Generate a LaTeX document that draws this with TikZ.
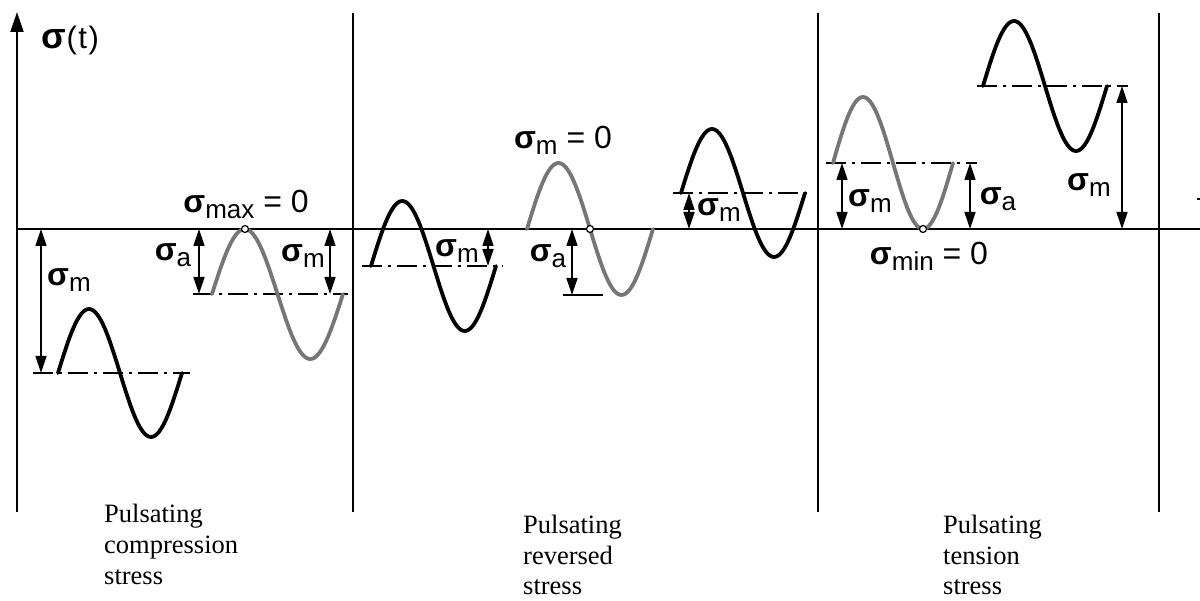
\documentclass[tikz,border=0pt]{standalone}
\usepackage{fontspec}
\setmainfont{Liberation Serif}
\newfontfamily\lsans{Liberation Sans}
\usetikzlibrary{arrows.meta}
\definecolor{wgray}{RGB}{118,118,118}
\newcommand\sgm[1]{{\fontsize{32}{32}\selectfont\lsans\bfseries σ}{\fontsize{26}{26}\selectfont\lsans\raisebox{-6pt}{#1}}}
\newcommand\eqz{{\fontsize{32}{32}\selectfont\lsans\ =\ 0}}
\newcommand\wv[5]{\draw[#5] plot[domain=0:1,samples=73,smooth] ({#1+#3*\x},{#2-#4*sin(360*\x)});}
\tikzset{
  axis/.style={line width=2pt},
  bwave/.style={line width=3.8pt, line cap=round, line join=round, draw=black},
  gwave/.style={line width=3.8pt, line cap=round, line join=round, draw=wgray},
  mline/.style={line width=1.4pt, dash pattern=on 20pt off 6pt on 3pt off 6pt},
  dim/.style={line width=1.4pt, {Triangle[length=17pt,width=11pt]}-{Triangle[length=17pt,width=11pt]}},
  lab/.style={inner sep=0pt, anchor=center, font=\lsans},
  capt/.style={font=\fontsize{26.5}{26.5}\selectfont, anchor=base west, inner sep=0pt},
  zpt/.style={circle, draw, fill=white, inner sep=0pt, minimum size=7pt, line width=1.2pt}
}
\begin{document}
\begin{tikzpicture}[x=1pt,y=-1pt]
\useasboundingbox (0,0) rectangle (1200,601);
% axes and separators
\draw[axis,-{Triangle[length=20pt,width=13pt]}] (17,512) -- (17,12);
\draw[axis] (17,229) -- (1200,229);
\draw[axis] (353,13) -- (353,512);
\draw[axis] (818,13) -- (818,512);
\draw[axis] (1159,13) -- (1159,512);
\draw[line width=1.5pt] (1197,199) -- (1200,199);
\node[lab, font=\fontsize{31}{31}\selectfont\lsans] (sigt) at (70,40) {{\fontsize{36}{36}\selectfont\bfseries σ}\kern1pt(\kern1.5pt t\kern1.5pt)};
% mean lines
\draw[mline] (33,373) -- (190,373);
\draw[mline] (193,294) -- (348,294);
\draw[mline] (362,266) -- (503,266);
\draw[line width=1.4pt] (563,295) -- (603,295);
\draw[mline] (673,193) -- (810,193);
\draw[mline] (826,163) -- (977,163);
\draw[mline] (977,86) -- (1128,86);
% waves
\wv{58}{373}{124}{64}{bwave}
\wv{212}{294}{131}{65}{gwave}
\wv{371}{266}{125}{65}{bwave}
\wv{527}{229}{126}{66}{gwave}
\wv{681}{193}{124}{64}{bwave}
\wv{833}{163}{120}{66}{gwave}
\wv{983}{86}{124}{65}{bwave}
% zero points
\node[zpt] (z1) at (245,229) {};
\node[zpt] (z2) at (590,229) {};
\node[zpt] (z3) at (923,229) {};
% dimension arrows
\coordinate (a1t) at (41,229);  \coordinate (a1b) at (41,373);
\coordinate (a2t) at (199,229); \coordinate (a2b) at (199,294);
\coordinate (a3t) at (330,229); \coordinate (a3b) at (330,294);
\coordinate (a4t) at (488,229); \coordinate (a4b) at (488,266);
\coordinate (a5t) at (572,229); \coordinate (a5b) at (572,295);
\coordinate (a6t) at (689,193); \coordinate (a6b) at (689,229);
\coordinate (a7t) at (842,163); \coordinate (a7b) at (842,229);
\coordinate (a8t) at (970,163); \coordinate (a8b) at (970,229);
\coordinate (a9t) at (1122,86); \coordinate (a9b) at (1122,229);
\foreach \i in {1,...,9} {\draw[dim] (a\i t) -- (a\i b);}
% labels
\node[lab] (l1) at (69,280) {\sgm{m}};
\node[lab] (l2) at (173,255) {\sgm{a}};
\node[lab] (l3) at (303,256) {\sgm{m}};
\node[lab] (l4) at (457,251) {\sgm{m}};
\node[lab] (l5) at (548,256) {\sgm{a}};
\node[lab] (l6) at (719,210) {\sgm{m}};
\node[lab] (l7) at (870,201) {\sgm{m}};
\node[lab] (l8) at (998,199) {\sgm{a}};
\node[lab] (l9) at (1089,185) {\sgm{m}};
\node[lab] (lmax) at (246,204) {\sgm{max}\eqz};
\node[lab] (lm0) at (563,140) {\sgm{m}\eqz};
\node[lab] (lmin) at (929,256) {\sgm{min}\eqz};
% captions
\node[capt] (c1a) at (104,522) {Pulsating};
\node[capt] (c1b) at (104,553) {compression};
\node[capt] (c1c) at (104,584) {stress};
\node[capt] (c2a) at (523,533) {Pulsating};
\node[capt] (c2b) at (523,564) {reversed};
\node[capt] (c2c) at (523,594) {stress};
\node[capt] (c3a) at (943,533) {Pulsating};
\node[capt] (c3b) at (943,564) {tension};
\node[capt] (c3c) at (943,594) {stress};
\end{tikzpicture}
\end{document}
